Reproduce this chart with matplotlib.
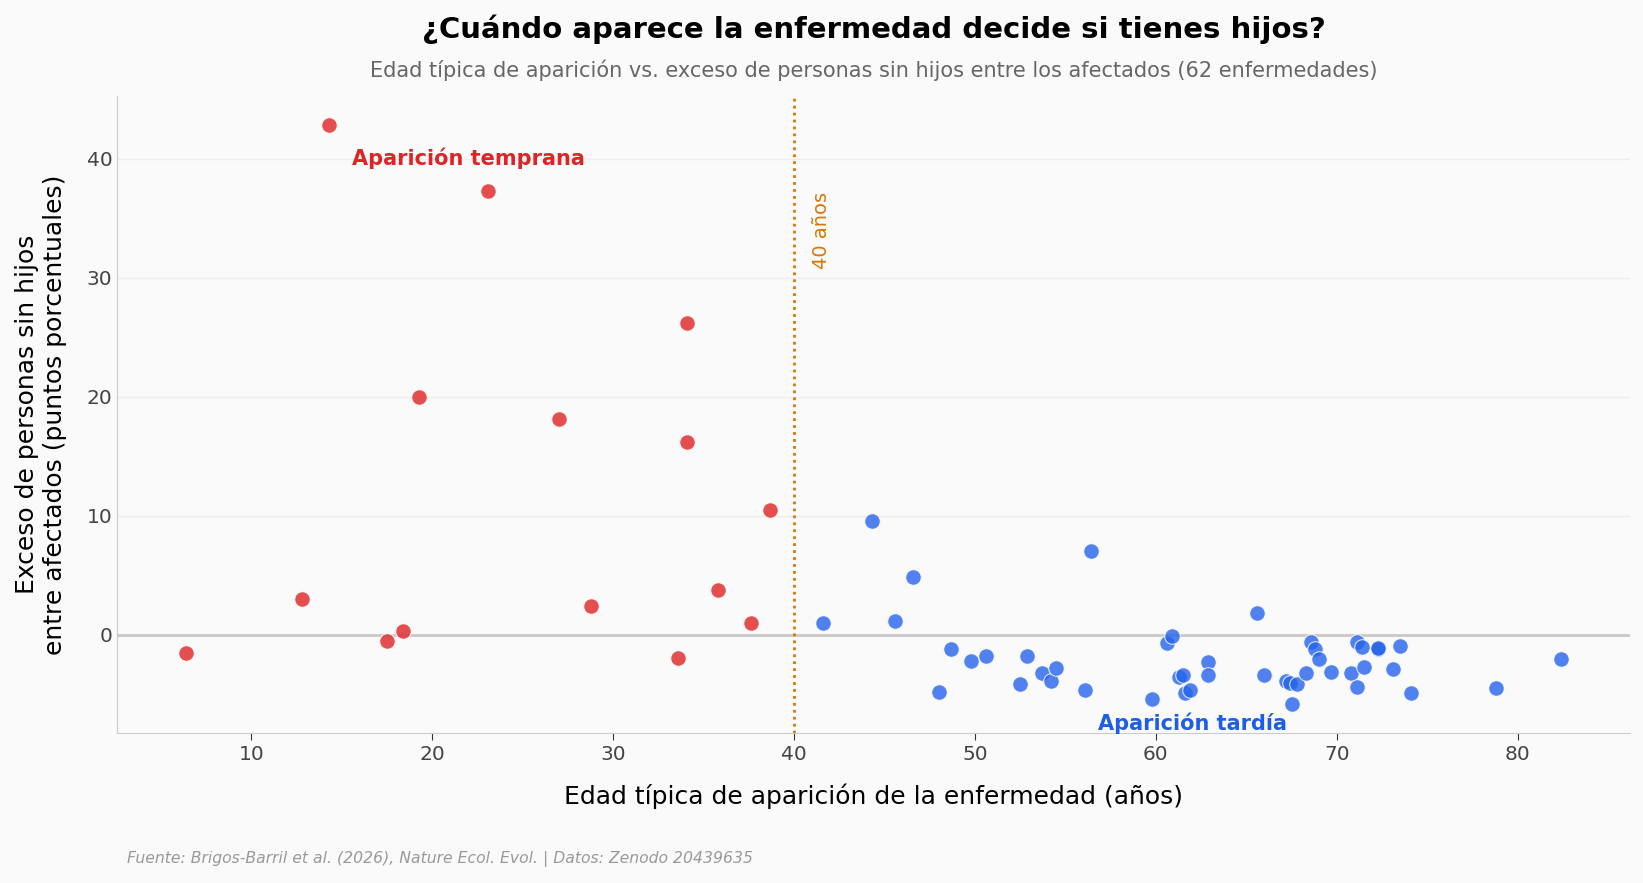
import matplotlib
matplotlib.use("Agg")
import matplotlib.pyplot as plt

# Early-onset diseases (onset < 40 years)
early_age = [6.4, 12.8, 14.3, 17.5, 18.4, 19.3, 23.1, 27.0, 28.8, 33.6, 34.1, 34.1, 35.8, 37.6, 38.7]
early_excess = [-1.5, 3.0, 42.8, -0.5, 0.35, 20.0, 37.3, 18.1, 2.4, -1.9, 26.2, 16.2, 3.8, 1.0, 10.5]

# Late-onset diseases (onset >= 40 years)
late_age = [41.6, 44.3, 45.6, 46.6, 48.0, 48.7, 49.8, 50.6, 52.5, 52.9, 53.7, 54.2, 54.5, 56.1,
            56.4, 59.8, 60.6, 60.9, 61.3, 61.5, 61.6, 61.9, 62.9, 62.9, 65.6, 66.0, 67.2, 67.4,
            67.5, 67.8, 68.3, 68.6, 68.8, 69.0, 69.7, 70.8, 71.1, 71.1, 71.4, 71.5, 72.3, 72.3,
            73.1, 73.5, 74.1, 78.8, 82.4]
late_excess = [1.0, 9.6, 1.15, 4.9, -4.8, -1.2, -2.2, -1.8, -4.1, -1.8, -3.2, -3.9, -2.8, -4.6,
               7.06, -5.4, -0.7, -0.1, -3.5, -3.4, -4.9, -4.6, -2.3, -3.4, 1.8, -3.4, -3.9, -4.05,
               -5.8, -4.1, -3.2, -0.6, -1.2, -2.0, -3.1, -3.2, -0.6, -4.4, -1.05, -2.7, -1.2, -1.1,
               -2.9, -0.9, -4.9, -4.5, -2.0]

threshold = 40
xticks = [10, 20, 30, 40, 50, 60, 70, 80]
yticks = [0, 10, 20, 30, 40]

bg = "#fafafa"
fig = plt.figure(figsize=(16.43, 8.83), dpi=100, facecolor=bg)
ax = fig.add_axes([0.0714, 0.170, 0.9206, 0.721], facecolor=bg)

ax.axhline(0, color="#c8c8c8", lw=2, zorder=1)
ax.axvline(threshold, color="#d97706", lw=2, ls=(0, (1, 1.5)), zorder=2)

ax.scatter(early_age, early_excess, s=125, color="#e03131", alpha=0.85,
           edgecolors="white", linewidths=0.8, zorder=3)
ax.scatter(late_age, late_excess, s=125, color="#2563eb", alpha=0.8,
           edgecolors="white", linewidths=0.8, zorder=3)

ax.text(22.0, 40.0, "Aparición temprana", color="#dc2626", fontsize=15,
        fontweight="bold", ha="center", va="center", zorder=4)
ax.text(62.0, -7.4, "Aparición tardía", color="#1d5ee8", fontsize=15,
        fontweight="bold", ha="center", va="center", zorder=4)
ax.text(41.0, 34.0, "40 años", color="#d97706", fontsize=14, rotation=90,
        ha="left", va="center", zorder=4)

ax.set_xticks(xticks)
ax.set_yticks(yticks)
ax.grid(axis="y", color="#ececec", lw=1)
ax.set_axisbelow(True)
for s in ["top", "right"]:
    ax.spines[s].set_visible(False)
for s in ["left", "bottom"]:
    ax.spines[s].set_color("#cccccc")
ax.tick_params(axis="x", colors="#444444", labelsize=14.5, length=5, color="#333333")
ax.tick_params(axis="y", colors="#444444", labelsize=14.5, length=0)

ax.set_xlabel("Edad típica de aparición de la enfermedad (años)", fontsize=18, labelpad=14)
ax.set_ylabel("Exceso de personas sin hijos\nentre afectados (puntos porcentuales)", fontsize=18,
              labelpad=14)

cx = 0.0714 + 0.9206 / 2
fig.text(cx, 0.967, "¿Cuándo aparece la enfermedad decide si tienes hijos?",
         ha="center", va="center", fontsize=21, fontweight="bold")
fig.text(cx, 0.920, "Edad típica de aparición vs. exceso de personas sin hijos entre los afectados (62 enfermedades)",
         ha="center", va="center", fontsize=15, color="#666666")
fig.text(0.077, 0.027, "Fuente: Brigos-Barril et al. (2026), Nature Ecol. Evol. | Datos: Zenodo 20439635",
         ha="left", va="center", fontsize=11.25, color="#999999", style="italic")

fig.savefig("out.png", dpi=100, facecolor=bg)
